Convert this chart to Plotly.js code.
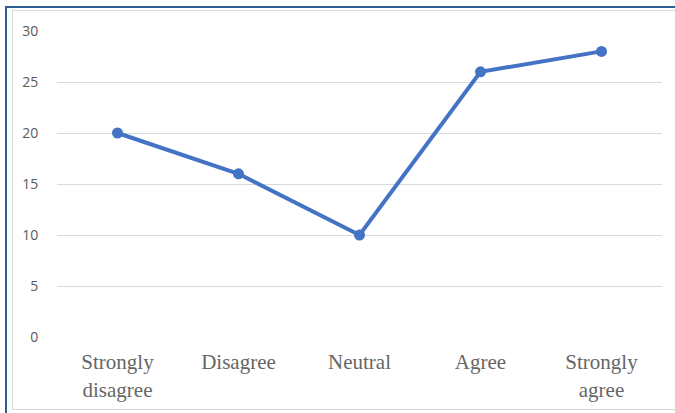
<!DOCTYPE html>
<html>
<head>
<meta charset="utf-8">
<script src="https://cdn.plot.ly/plotly-3.0.1.min.js"></script>
<style>
  html, body { margin: 0; padding: 0; background: #ffffff; }
  #wrap { position: relative; width: 675px; height: 413px; overflow: hidden; }
  #frame { position: absolute; left: 5px; top: 6px; width: 700px; height: 420px;
           border-top: 2px solid #2f5f8f; border-left: 2px solid #2f5f8f; }
  #box { position: absolute; left: 12px; top: 10px; width: 700px; height: 398px;
         border: 1px solid #d9d9d9; }
  #chart { position: absolute; left: 0; top: 0; width: 675px; height: 413px; }
</style>
</head>
<body>
<div id="wrap">
  <div id="frame"></div>
  <div id="box"></div>
  <div id="chart"></div>
</div>
<script>
// Response categories and counts
const categories = ["Strongly<br>disagree", "Disagree", "Neutral", "Agree", "Strongly<br>agree"];
const counts = [20, 16, 10, 26, 28];
const yTicks = [0, 5, 10, 15, 20, 25, 30];

const trace = {
  type: "scatter",
  mode: "lines+markers",
  x: categories,
  y: counts,
  line: { color: "#4472c4", width: 4 },
  marker: { color: "#4472c4", size: 11 },
  hoverinfo: "x+y"
};

const layout = {
  width: 675,
  height: 413,
  margin: { l: 57, r: 13, t: 31, b: 76 },
  paper_bgcolor: "rgba(0,0,0,0)",
  plot_bgcolor: "rgba(0,0,0,0)",
  showlegend: false,
  xaxis: {
    type: "category",
    range: [-0.5, categories.length - 0.5],
    showgrid: false,
    zeroline: false,
    showline: false,
    ticks: "outside",
    ticklen: 6,
    tickcolor: "rgba(0,0,0,0)",
    tickfont: { family: "Liberation Serif, Times New Roman, serif", size: 21, color: "#666666" }
  },
  yaxis: {
    range: [0, 30],
    tickvals: yTicks,
    ticktext: yTicks.map(String),
    showgrid: true,
    gridcolor: "#d9d9d9",
    gridwidth: 1,
    zeroline: false,
    showline: false,
    ticks: "outside",
    ticklen: 15,
    tickcolor: "rgba(0,0,0,0)",
    tickfont: { family: "Open Sans, Liberation Sans, sans-serif", size: 14, color: "#595959" }
  }
};

Plotly.newPlot("chart", [trace], layout, { displayModeBar: false });
</script>
</body>
</html>
